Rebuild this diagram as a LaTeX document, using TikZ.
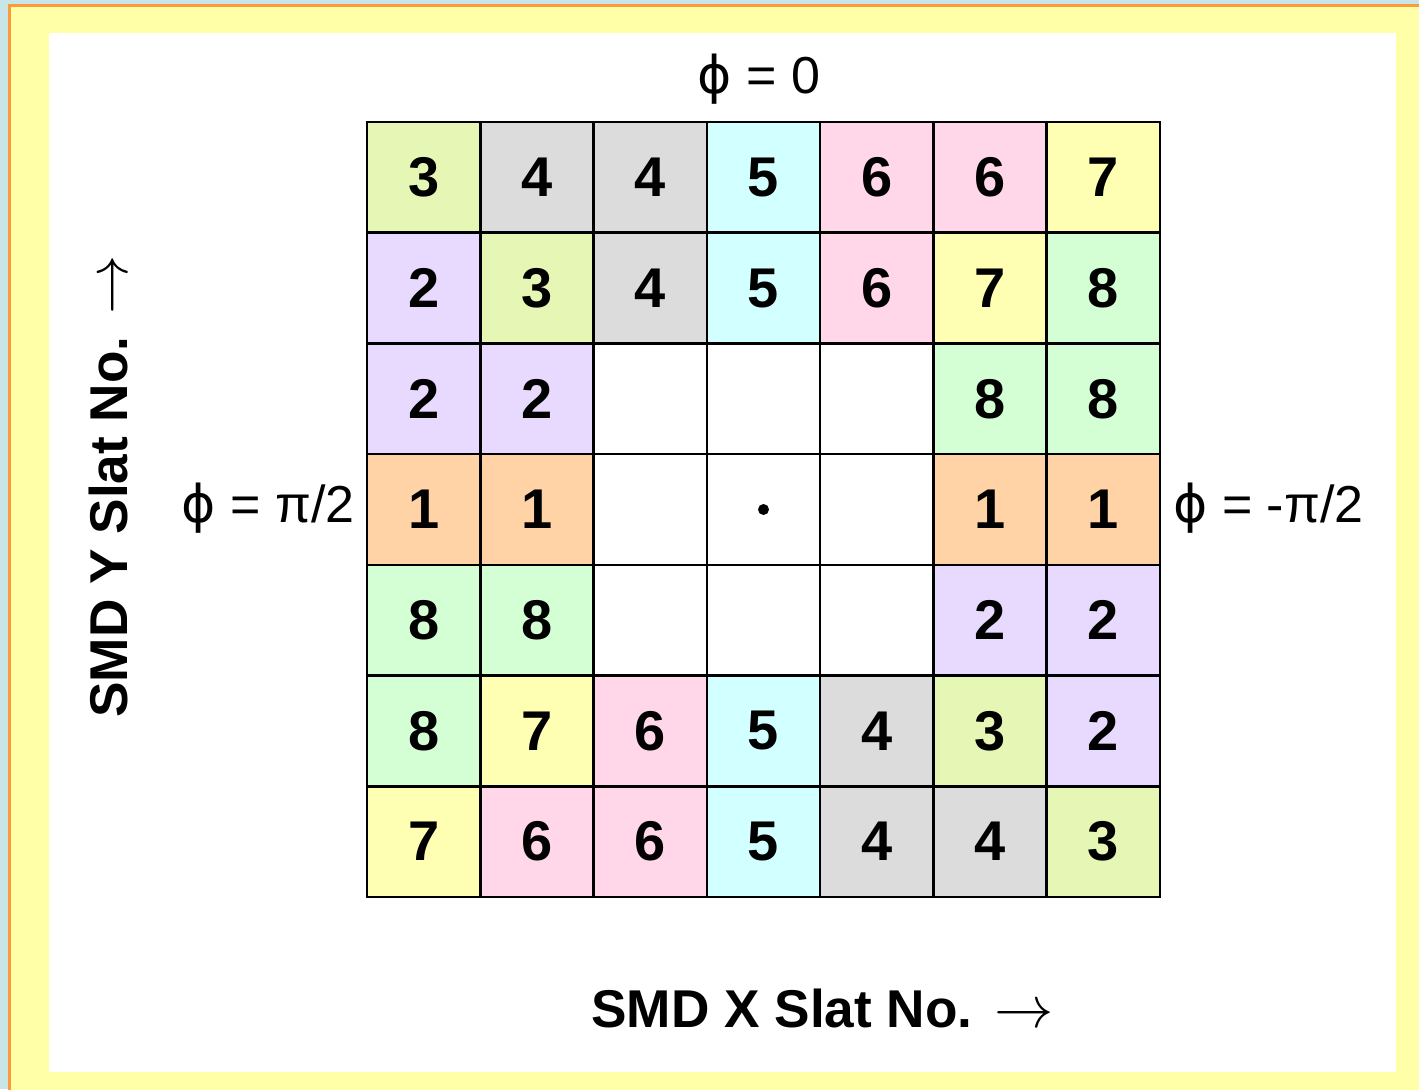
\documentclass[tikz,border=0pt]{standalone}
\usepackage{graphicx}
\usepackage{fontspec}
\setmainfont{Liberation Sans}
\newfontfamily\phifont{DejaVu Sans}
\definecolor{bgblue}{HTML}{C8E6E8}
\definecolor{frameyellow}{HTML}{FFFFA8}
\definecolor{frameorange}{HTML}{FF9A3C}
\definecolor{n0}{HTML}{FFFFFF}
\definecolor{n1}{HTML}{FFD3A5}
\definecolor{n2}{HTML}{E8D9FF}
\definecolor{n3}{HTML}{E6F6B4}
\definecolor{n4}{HTML}{DCDCDC}
\definecolor{n5}{HTML}{D2FFFF}
\definecolor{n6}{HTML}{FFD7E8}
\definecolor{n7}{HTML}{FFFFB4}
\definecolor{n8}{HTML}{D4FED4}
\newcommand{\phisym}{{\phifont ϕ}}
\newcommand{\bigarrow}{\scalebox{1.19}{$\rightarrow$}}
\tikzset{
  cell/.style={draw=black, line width=1.25pt, minimum width=56.64pt, minimum height=55.36pt,
    inner sep=0pt, font=\fontsize{28}{30}\selectfont\bfseries},
  philabel/.style={font=\fontsize{26}{28}\selectfont, inner sep=0pt},
  axislabel/.style={font=\fontsize{26.6}{30}\selectfont\bfseries, inner sep=0pt}
}
\begin{document}
\begin{tikzpicture}[x=0.5pt,y=-0.5pt]
\useasboundingbox (0,0) rectangle (1419,1089);
\fill[bgblue] (0,0) rectangle (1419,1089);
\begin{scope}
\clip (0,0) rectangle (1419,1089);
\filldraw[fill=frameyellow, draw=frameorange, line width=1.5pt] (9.5,5.5) rectangle (1440,1110);
\end{scope}
\fill[white] (49,33) rectangle (1396,1072);
\foreach \r/\row in {1/{3,4,4,5,6,6,7},2/{2,3,4,5,6,7,8},3/{2,2,0,0,0,8,8},4/{1,1,0,0,0,1,1},5/{8,8,0,0,0,2,2},6/{8,7,6,5,4,3,2},7/{7,6,6,5,4,4,3}}{
  \foreach \v [count=\c] in \row {
    \node[cell, fill=n\v] (c\r\c) at ({367+113.286*(\c-0.5)},{122+110.714*(\r-0.5)}) {\ifnum\v>0 \v\fi};
  }
}
\fill (c44.center) circle[radius=5.5];
\node[philabel, anchor=base] (top) at (759,93) {\phisym{} = 0};
\node[philabel, anchor=base east] (left) at (355,522) {\phisym{} = π/2};
\node[philabel, anchor=base west] (right) at (1173,522) {\phisym{} = -π/2};
\node[axislabel, anchor=base west] (xlab) at (591,1027) {SMD X Slat No.\hspace{11pt}\bigarrow};
\node[axislabel, anchor=base west, rotate=90] (ylab) at (127,718) {SMD Y Slat No.\hspace{11pt}\bigarrow};
\end{tikzpicture}
\end{document}
